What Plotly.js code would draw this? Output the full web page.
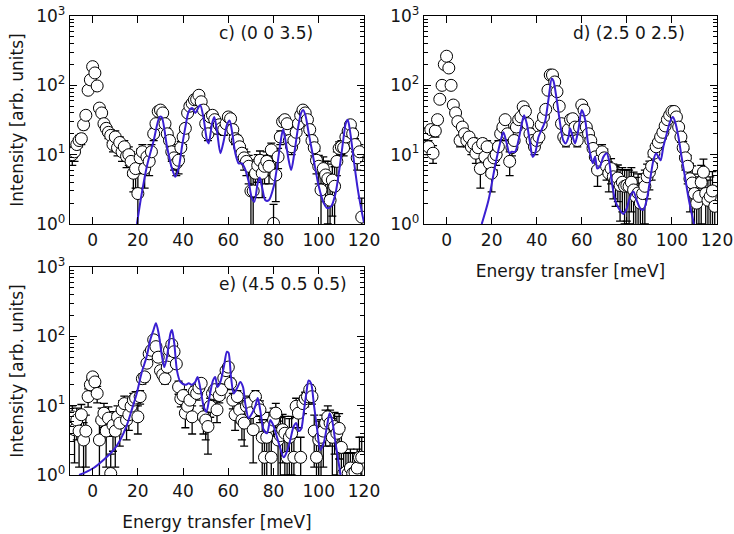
<!DOCTYPE html>
<html>
<head>
<meta charset="utf-8">
<script src="https://cdn.plot.ly/plotly-3.0.1.min.js"></script>
<style>html,body{margin:0;padding:0;background:#fff;}#chart{width:734px;height:534px;}</style>
</head>
<body>
<div id="chart"></div>
<script>
// Energy transfer grid of the measured points (meV)
const energy = [-9,-8,-7,-6,-5,-4,-3,-2,-1,0,1,2,3,4,5,6,7,8,9,10,11,12,13,14,15,16,17,18,19,20,
21,22,23,24,25,26,27,28,29,30,31,32,33,34,35,36,37,38,39,40,41,42,43,44,45,46,47,48,49,50,
51,52,53,54,55,56,57,58,59,60,61,62,63,64,65,66,67,68,69,70,71,72,73,74,75,76,77,78,79,80,
81,82,83,84,85,86,87,88,89,90,91,92,93,94,95,96,97,98,99,100,101,102,103,104,105,106,107,108,109,110,
111,112,113,114,115,116,117,118,119];

// Panel c) (0 0 3.5)
const cIntensity = [10,11,14,16,17,27,37,85,120,186,
151,98,47,40,28,24,21,19,14,18,
12.6,15,11,13,9.5,10,8,5.4,6.3,2.75,
9,11,6.3,9.3,8,11,20,28,42,44,
40,28,20,16,11,9,7.5,8.3,12.6,18,
24,40,50,55,62,63,72,58,44,28,
20,35,37,32,24,27,24,23,28,35,
33,23,17,16,13,10.5,9,8,6.8,3,
3,5.4,7,8.3,5.4,6.8,8,6.8,11.7,1.02,
5.1,9.3,18,30,32,28,16,13,16,21,
28,37,44,40,32,23,16,12.6,8.3,6.8,
3.1,6.3,5.1,4.5,2.2,4.3,3.5,8,12.3,13,
12.6,18,22,27,20,14,9,11,1.26];
const cError = [3,3,3,3,3,4,5,8,10,12,
10,8,5,5,4,4,4,4,3,4,
3,3,3,3,3,3,3,2.5,3,2.6,
3,3,3,3,3,3,4,4,5,5,
5,4,4,3,3,3,2.5,3,3,4,
4,5,6,6,6,6,7,6,5,4,
4,5,5,5,4,4,4,4,4,5,
5,4,3,3,3,3,3,3,3,2.8,
2.8,3,3,3,3,3,3,3,3,0.9,
3,3,4,4,5,4,3,3,3,4,
4,5,5,5,5,4,3,3,3,3,
2.9,3,3,3.5,2.1,3,3.2,3,3,3,
3,4,4,4,4,3,3,3,1.1];
const cModelE = [19.6,21.5,24,27,29.6,30.5,32.9,35.1,36.6,38,39.5,41,42.5,44,45.4,46.9,47.6,49.1,50.6,51.3,
52.8,53.8,55,56.5,58,59.4,60.6,61.6,63.1,64.6,66,67.6,69,70.5,71.5,73,73.9,75,76.4,77.9,
80.1,81.6,83,84.2,85.2,86.7,87.8,89.2,90.7,92.2,93.1,94.1,95.6,97.8,100,102.2,103.7,105.5,107.4,109.3,
110.8,111.9,112.8,114,115.5,117.3,119.2,120];
const cModelI = [1.0,2.5,6.8,16,35,35,13,6.3,4.8,6.3,13,25,42,47,40,49,52,33,16,14.5,
28,35,22,10.5,16,27,31,22,10.5,7.5,7.5,6,4.1,2.3,2.1,3.9,4.7,3.3,2.2,2.2,
3.5,6.8,14.5,23,16.6,8.3,6,10.5,23,40,44,37,20,8.3,3.5,2,1.7,1.8,2.75,6.8,
16,28,32,20,8.3,3.1,1.4,1.05];

// Panel d) (2.5 0 2.5)
const dIntensity = [20,13,23,10.5,22,32,63,100,200,263,
178,100,52,40,30,16,25,20,16,18,
13,14.5,10.5,12.6,6.3,14.5,9.3,13,7.5,5.4,
9,10,13,20,25,32,20,8,12.6,16,
25,32,35,49,42,28,20,16,13,16,
18,27,35,45,85,141,141,112,81,50,
28,18,16,23,32,33,25,16,25,52,
44,25,20,16,12.3,9.3,6,8.3,11,9,
6.8,5.4,6.3,4.8,4.3,4.6,3.6,4,3.5,3.6,
3.5,4,3.1,2.5,2.8,2,2.75,3.5,4.8,5.6,
6.8,10.5,13,15,18,21,26,32,37,42,
42,35,25,18,12.6,9,6.8,4.5,3.9,2.75,
2,2.5,4,5.6,2.75,2.2,2.5,3,1.8];
const dError = [4,3,4,3,4,4,5,6,8,10,
8,6,5,4,4,3,4,3,3,3,
3,3,3,3,3,2.5,3,3,2.5,2.5,
3,3,3,4,4,4,4,3,3,3,
4,4,4,5,5,4,4,3,3,3,
3,4,4,5,6,8,8,7,6,5,
4,3,3,4,4,4,4,3,4,5,
5,4,4,3,3,3,2.5,3,3,3,
2.5,2.5,2.5,2.5,2.5,2.5,2.5,2.5,2.5,2.5,
2.5,2.5,2.5,2.2,2.5,1.9,2.5,2.5,2.5,2.5,
2.5,3,3,3,3,3,3,4,4,4,
4,4,3,3,3,3,3,3,3,2.5,
1.9,2.3,3,3,2.5,2.1,2.3,2.7,1.7];
const dModelE = [15.6,18.6,21.5,23.7,25.2,26.7,27.9,28.9,30.4,31.9,33.4,34.4,35.6,37.1,38.2,39.3,40.8,42.2,43.7,45.2,
46.7,47.4,48.9,50.4,51.8,52.9,54.1,54.8,56,57,58.5,60,61.5,62.6,63.7,64.9,65.9,66.9,68.1,69.6,
71.1,72.3,73.3,74.8,76.3,78.5,80,81.4,82.9,84.4,85.9,87.3,88.8,90.3,91.8,93,94,95,96.2,97.7,
99.2,100.4,101.4,102.9,104.3,105.8,107.3,108.8,109.8];
const dModelI = [1.0,2.2,6.8,14.5,21,14.5,10.5,11,11,16,28,37,28,14.5,9.3,10.5,18,23,30,62,
126,117,62,28,16,14.5,18,24,18,14.5,23,44,32,16,10.5,7.5,9.3,6.3,6.8,9.3,
10.5,7.5,4.1,2.2,1.7,1.4,1.7,2.45,2.95,2.2,1.7,1.6,2.2,4.3,8.3,10.5,9.3,8.3,13,20,
30,35,30,18,9.3,4.8,2.45,1.4,1.0];

// Panel e) (4.5 0.5 0.5)
const eIntensity = [6.9,4.5,6.2,4.3,7.4,3.2,4.3,13.5,20,26,
22,15,3.2,6.2,7.8,4.3,6.6,1.05,5.2,4.3,
6.9,5.6,8.7,10.7,6.2,7.4,9.8,12,12.9,6.9,
13.5,24.5,26,41,56,63,89,71,50,32,
28,24.5,36,63,76,60,40,18.6,12.6,14,
7.8,9.8,12,6.9,16,15,18,21,6.9,6.2,
5,9.8,15,17,8.7,14,17,25,32,36,
21,12,7.4,13.5,8.7,6.2,5.6,9.8,10.7,7.9,
4.5,13.5,10,8.7,3.5,1.8,3.5,5,1.8,6.2,
7.8,3.2,3.7,4.5,4,1.8,3.5,4,1.8,9.8,
7.8,1.8,10.7,12.6,13.5,17,13.5,4.3,1.8,3.2,
3.5,4.3,5.6,6.9,5.6,3.5,5,4,4.7,2.5,
1.05,1.1,1.05,1.26,1.05,1.1,1.26,1.8,1.8];
const eError = [3,3,3,3,3,2.5,3,4,4,4,
4,4,2.8,3,3,3,3,0.95,3,3,
3,3,3,3,3,3,3,3,3,3,
3,4,4,5,5,6,7,6,5,4,
4,4,4,6,6,6,5,4,3,3,
3,3,3,3,3,3,3,3,3,3,
3,3,3,3,3,3,4,4,4,5,
4,3,3,3,3,3,3,3,3,3,
3,3,3,3,2.8,1.7,2.8,3,1.7,3,
3,2.8,3,3,3,1.7,3,3,1.7,3,
3,1.7,3,3,3,3,3,3,1.7,2.8,
2.8,3,3,3,3,3,3,3,3,2.3,
1,1,1,1.1,1,1,1.1,1.7,1.7];
const eModelE = [-6,-3,0.4,4.9,9.3,12.2,15.1,17.3,19.5,21.7,23.9,25.5,26.9,28,29.2,30.7,31.7,32.9,34.4,35.1,
36.1,37.3,38.8,41,42.5,43.9,45.4,46.4,47.6,49.1,50.3,51.7,53.2,54.2,55.2,56.5,58,59.4,60.1,61.2,
62.4,63.9,65.3,66.5,67.5,69,70.5,71.9,73,74.1,75.6,77.1,78.6,80.1,81.2,82.7,84.5,86,87.4,88.9,
90.1,91.1,92.2,93.3,94.5,95.5,96.6,97.8,99.3,100.7,102.2,103.7,104.8,105.9,107.4,108.8,109.6];
const eModelI = [1.0,1.1,1.26,1.66,2.3,3.2,5.2,8.7,15,30,51,89,123,155,110,51,36,51,110,123,
79,32,22,20,21,20,22,26,18,9.8,8.1,13.5,23,26,18.6,22,36,60,58,26,
15,18,22,18.6,10.7,6.6,7.8,9.8,12.9,8.7,4.5,4,6.2,5,3.8,2.6,1.8,2.2,3.2,5,
5.6,4.3,4.6,7.8,15,23,21,10.7,4.5,2.3,2.9,5.2,7.8,6.2,2.9,1.5,1.0];

// Axis ticks
const xTickVals = [0,20,40,60,80,100,120];
const yTickVals = [1,10,100,1000];
const yTickText = ['10<sup>0</sup>','10<sup>1</sup>','10<sup>2</sup>','10<sup>3</sup>'];
const yMinorVals = [2,3,4,5,6,7,8,9,20,30,40,50,60,70,80,90,200,300,400,500,600,700,800,900];
const panelLabels = ['c) (0 0 3.5)','d) (2.5 0 2.5)','e) (4.5 0.5 0.5)'];
const xTitle = 'Energy transfer [meV]';
const yTitle = 'Intensity [arb. units]';

const FONT = 'DejaVu Sans, sans-serif';
const TXT = '#151515';
const LINE = '#3a1fd2';
const FS = 17;

function dataTrace(y, err, xa, ya) {
  return {
    x: energy, y: y, xaxis: xa, yaxis: ya, type: 'scatter', mode: 'markers',
    marker: {symbol: 'circle', size: 12, color: 'white', line: {color: 'black', width: 1}},
    error_y: {type: 'data', array: err, visible: true, color: 'black', thickness: 1.3, width: 4},
    showlegend: false, hoverinfo: 'skip'
  };
}
function modelTrace(x, y, xa, ya) {
  return {
    x: x, y: y, xaxis: xa, yaxis: ya, type: 'scatter', mode: 'lines',
    line: {color: LINE, width: 2, shape: 'spline', smoothing: 0.8},
    showlegend: false, hoverinfo: 'skip'
  };
}

const traces = [
  dataTrace(cIntensity, cError, 'x', 'y'),
  modelTrace(cModelE, cModelI, 'x', 'y'),
  dataTrace(dIntensity, dError, 'x2', 'y2'),
  modelTrace(dModelE, dModelI, 'x2', 'y2'),
  dataTrace(eIntensity, eError, 'x3', 'y3'),
  modelTrace(eModelE, eModelI, 'x3', 'y3')
];

function xAxis(domain, anchor, withTitle) {
  const ax = {
    domain: domain, anchor: anchor, range: [-10, 120], tickmode: 'array', tickvals: xTickVals,
    ticks: 'inside', ticklen: 7, tickwidth: 1, tickcolor: 'black', mirror: 'allticks',
    showline: true, linecolor: 'black', linewidth: 1.2, showgrid: false, zeroline: false,
    tickfont: {family: FONT, size: FS, color: TXT}
  };
  if (withTitle) ax.title = {text: xTitle, font: {family: FONT, size: FS, color: TXT}, standoff: 16};
  return ax;
}
function yAxis(domain, anchor, withTitle) {
  const ax = {
    domain: domain, anchor: anchor, type: 'log', range: [0, 3], tickmode: 'array',
    tickvals: yTickVals, ticktext: yTickText,
    ticks: 'inside', ticklen: 7, tickwidth: 1, tickcolor: 'black', mirror: 'allticks',
    minor: {tickmode: 'array', tickvals: yMinorVals, ticks: 'inside', ticklen: 4, tickcolor: 'black', showgrid: false},
    showline: true, linecolor: 'black', linewidth: 1.2, showgrid: false, zeroline: false,
    tickfont: {family: FONT, size: FS, color: TXT}
  };
  if (withTitle) ax.title = {text: yTitle, font: {family: FONT, size: FS, color: TXT}, standoff: 8};
  return ax;
}

const xTop = [0.0954, 0.4959], xRight = [0.5777, 0.9768];
const yTop = [0.5805, 0.9700], yBot = [0.1105, 0.5000];

const layout = {
  width: 734, height: 534,
  margin: {l: 0, r: 0, t: 0, b: 0},
  paper_bgcolor: 'white', plot_bgcolor: 'white',
  showlegend: false,
  xaxis: xAxis(xTop, 'y', false),
  yaxis: yAxis(yTop, 'x', true),
  xaxis2: xAxis(xRight, 'y2', true),
  yaxis2: yAxis(yTop, 'x2', false),
  xaxis3: xAxis(xTop, 'y3', true),
  yaxis3: yAxis(yBot, 'x3', true),
  annotations: panelLabels.map((t, i) => ({
    text: t, xref: ['x','x2','x3'][i] + ' domain', yref: ['y','y2','y3'][i] + ' domain',
    x: 0.5, y: 0.92, xanchor: 'left', yanchor: 'middle', showarrow: false,
    font: {family: FONT, size: FS, color: TXT}
  }))
};

Plotly.newPlot('chart', traces, layout, {staticPlot: true, displayModeBar: false});
</script>
</body>
</html>
